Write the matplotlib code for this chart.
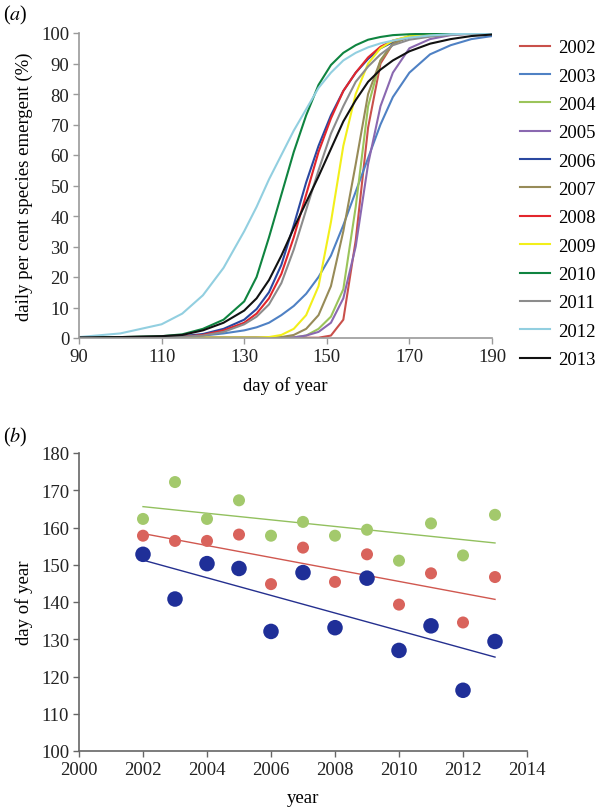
import matplotlib
matplotlib.use('Agg')
import matplotlib.pyplot as plt
import numpy as np

plt.rcParams['font.family'] = 'serif'
plt.rcParams['font.serif'] = ['Liberation Serif', 'DejaVu Serif']
plt.rcParams['mathtext.fontset'] = 'stix'

# ── (a) cumulative emergence curves ──
days = [90, 100, 110, 115, 120, 125, 130, 133, 136, 139, 142, 145,
        148, 151, 154, 157, 160, 163, 166, 170, 175, 180, 185, 190]

pct_2002 = [0.1, 0.1, 0.1, 0.1, 0.1, 0.1, 0.1, 0.1, 0.1, 0.1, 0.1, 0.1,
            0.1, 0.8, 6, 32, 69, 90, 96.5, 99, 99.7, 100, 100, 100]
pct_2003 = [0, 0.1, 0.2, 0.4, 0.8, 1.5, 2.5, 3.5, 5, 7.5, 10.5, 14.5,
            20, 27, 37, 48, 59, 70, 79, 87, 93, 96, 98, 99]
pct_2004 = [0.1, 0.1, 0.1, 0.1, 0.1, 0.1, 0.1, 0.1, 0.1, 0.1, 0.2, 0.8,
            3, 7, 16, 43, 76, 91, 96.5, 99, 99.7, 100, 100, 100]
pct_2005 = [0.1, 0.1, 0.1, 0.1, 0.1, 0.1, 0.1, 0.1, 0.1, 0.1, 0.2, 0.8,
            2, 5, 13, 30, 57, 76, 87, 95, 98, 99.3, 99.8, 100]
pct_2006 = [0.2, 0.2, 0.3, 0.6, 1.3, 3, 6, 9.5, 15, 24, 37, 51,
            63, 73, 81, 87, 91.5, 95, 97, 98.5, 99.3, 99.7, 100, 100]
pct_2007 = [0.1, 0.1, 0.1, 0.1, 0.1, 0.1, 0.1, 0.1, 0.1, 0.3, 1, 3,
            7.5, 17, 35, 57, 80, 91, 96.5, 98.8, 99.5, 100, 100, 100]
pct_2008 = [0.1, 0.1, 0.2, 0.4, 1, 2.5, 5, 8, 13, 21, 33, 47,
            61, 72, 81, 87, 92, 95.5, 97.5, 98.8, 99.5, 99.8, 100, 100]
pct_2009 = [0.1, 0.1, 0.1, 0.1, 0.1, 0.1, 0.1, 0.1, 0.3, 1, 3, 7.5,
            17, 38, 63, 80, 90, 95, 97.5, 99, 99.7, 100, 100, 100]
pct_2010 = [0.2, 0.3, 0.6, 1.2, 3, 6, 12, 20, 33, 47, 61, 73,
            83, 89.5, 93.5, 96, 97.8, 98.7, 99.3, 99.6, 99.8, 100, 100, 100]
pct_2011 = [0.1, 0.1, 0.2, 0.4, 0.8, 2, 4.5, 7, 11, 18, 29, 42,
            55, 67, 76, 84, 89, 93, 96, 97.8, 98.8, 99.4, 99.7, 100]
pct_2012 = [0.3, 1.5, 4.5, 8, 14, 23, 35, 43, 52, 60, 68, 75,
            82, 87, 91, 93.5, 95.3, 96.6, 97.5, 98.5, 99.2, 99.6, 99.8, 100]
pct_2013 = [0.2, 0.3, 0.6, 1, 2.5, 5, 9, 13, 19, 27, 36, 44.5,
            53, 62, 71, 78, 84, 88, 91, 94, 96.5, 98, 99, 99.5]

years_a = ['2002', '2003', '2004', '2005', '2006', '2007',
           '2008', '2009', '2010', '2011', '2012', '2013']
curves = [pct_2002, pct_2003, pct_2004, pct_2005, pct_2006, pct_2007,
          pct_2008, pct_2009, pct_2010, pct_2011, pct_2012, pct_2013]
curve_colors = ['#c9504b', '#4f81c4', '#9bc45a', '#8a68b0', '#2a48a0', '#978b58',
                '#e3262c', '#f2ef1a', '#0f8440', '#8c8c8c', '#92cfe0', '#111111']

# ── (b) emergence dates per year ──
years_b = [2002, 2003, 2004, 2005, 2006, 2007, 2008, 2009, 2010, 2011, 2012, 2013]
doy_green = [162.3, 172.2, 162.3, 167.3, 157.8, 161.5, 157.8, 159.4, 151.1, 161.1, 152.5, 163.4]
doy_red = [157.8, 156.4, 156.4, 158.1, 144.8, 154.6, 145.4, 152.8, 139.3, 147.7, 134.5, 146.7]
doy_blue = [152.8, 140.8, 150.3, 149.0, 132.1, 147.9, 133.1, 146.4, 127.0, 133.6, 116.3, 129.4]

fig = plt.figure(figsize=(6.04, 8.12), dpi=100)

FS = 13.5
AXIS_A = '#9a9a9a'
AXIS_B = '#666666'
SERIF = ['Liberation Serif', 'DejaVu Serif']


def style_axes(ax, col):
    for s in ['top', 'right']:
        ax.spines[s].set_visible(False)
    for s in ['left', 'bottom']:
        ax.spines[s].set_color(col)
        ax.spines[s].set_linewidth(1.2)
    ax.tick_params(direction='out', length=4, width=1.0, color=col,
                   labelsize=FS, labelcolor='#222222', pad=3)
    for lab in ax.get_xticklabels() + ax.get_yticklabels():
        lab.set_fontfamily(SERIF)


# ================================================================
# (a)
# ================================================================
ax1 = fig.add_axes([79/604, 1 - 339/812, 413/604, 305/812])
for yr, vals, c in zip(years_a, curves, curve_colors):
    ax1.plot(days, vals, color=c, linewidth=1.5, label=yr)

ax1.set_xlim(90, 190)
ax1.set_ylim(0, 100)
ax1.set_xticks(np.arange(90, 191, 20))
ax1.set_yticks(np.arange(0, 101, 10))
ax1.set_xlabel('day of year', fontsize=FS, labelpad=8)
ax1.set_ylabel('daily per cent species emergent (%)', fontsize=FS, labelpad=6)
style_axes(ax1, AXIS_A)

fig.legend(*ax1.get_legend_handles_labels(), loc='upper left',
           bbox_to_anchor=(520/604, 1 - 40/812), frameon=False,
           prop={'family': SERIF, 'size': FS}, handlelength=1.6,
           handletextpad=0.45, labelspacing=0.6, borderaxespad=0, borderpad=0)

fig.text(3/604, 1 - 15/812, '($\\mathit{a}$)', fontsize=FS + 1, va='center', ha='left')

# ================================================================
# (b)
# ================================================================
ax2 = fig.add_axes([79/604, 1 - 752/812, 448/604, 298/812])
yrs = np.array(years_b)
for vals, pc, lc, size in [(doy_green, '#a3c96c', '#92c05e', 75),
                           (doy_red, '#d9635c', '#d0574f', 75),
                           (doy_blue, '#1f2f98', '#25308f', 125)]:
    ax2.scatter(yrs, vals, s=size, color=pc, edgecolors='none', zorder=3)
    k, b = np.polyfit(yrs, vals, 1)
    ax2.plot([yrs[0], yrs[-1]], [k * yrs[0] + b, k * yrs[-1] + b],
             color=lc, linewidth=1.0, zorder=2)

ax2.set_xlim(2000, 2014)
ax2.set_ylim(100, 180)
ax2.set_xticks(np.arange(2000, 2015, 2))
ax2.set_yticks(np.arange(100, 181, 10))
ax2.set_xlabel('year', fontsize=FS, labelpad=8)
ax2.set_ylabel('day of year', fontsize=FS, labelpad=6)
style_axes(ax2, AXIS_B)

fig.text(3/604, 1 - 437/812, '($\\mathit{b}$)', fontsize=FS + 1, va='center', ha='left')

fig.savefig('out.png', dpi=100)
